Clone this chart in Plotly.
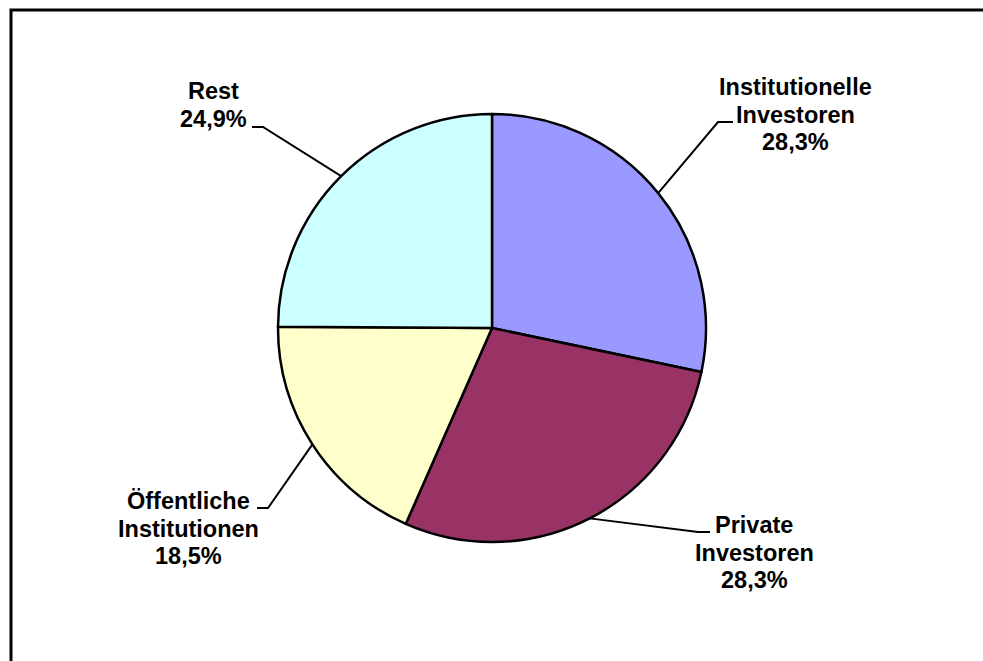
import math
import plotly.graph_objects as go

# ---- data ----
categories = ["Institutionelle Investoren", "Private Investoren", "Öffentliche Institutionen", "Rest"]
values = [28.3, 28.3, 18.5, 24.9]
label_lines = [
    ["Institutionelle", "Investoren", "28,3%"],
    ["Private", "Investoren", "28,3%"],
    ["Öffentliche", "Institutionen", "18,5%"],
    ["Rest", "24,9%"],
]
colors = ["#9999FF", "#993366", "#FFFFCC", "#CCFFFF"]

# ---- layout constants (pixels) ----
W, H = 983, 661
CX, CY, R = 492, 328, 214
FONT_SIZE = 23.5
LINE_SP = 27.5

# label centre x, first baseline y, elbow point, end of horizontal stub
label_pos = [
    dict(x=795, y=95, elbow=(718, 122), stub=(733, 122)),
    dict(x=754, y=533, elbow=(698, 532), stub=(710, 532)),
    dict(x=188, y=509, elbow=(268, 508), stub=(257, 508)),
    dict(x=213, y=99, elbow=(263, 127), stub=(252, 127)),
]


def px(x):
    return x / W


def py(y):
    return 1 - y / H


fig = go.Figure(
    go.Pie(
        labels=categories,
        values=values,
        sort=False,
        direction="clockwise",
        rotation=0,
        marker=dict(colors=colors, line=dict(color="black", width=2.5)),
        textinfo="none",
        hoverinfo="skip",
        showlegend=False,
        domain=dict(x=[px(CX - R), px(CX + R)], y=[py(CY + R), py(CY - R)]),
    )
)

shapes = []
annotations = []
total = sum(values)
cum = 0.0
for i, v in enumerate(values):
    mid = (cum + v / 2) / total * 2 * math.pi
    cum += v
    ex = CX + R * math.sin(mid)
    ey = CY - R * math.cos(mid)
    lp = label_pos[i]
    (bx, by), (sx, sy) = lp["elbow"], lp["stub"]
    path = f"M {px(ex)} {py(ey)} L {px(bx)} {py(by)} L {px(sx)} {py(sy)}"
    shapes.append(dict(type="path", xref="paper", yref="paper", path=path,
                       line=dict(color="black", width=2)))
    for j, t in enumerate(label_lines[i]):
        base = lp["y"] + j * LINE_SP
        annotations.append(dict(
            x=px(lp["x"]), y=py(base - 0.33 * FONT_SIZE), xref="paper", yref="paper",
            text=f"<b>{t}</b>", showarrow=False, xanchor="center", yanchor="middle",
            font=dict(family="Liberation Sans, Arial", size=FONT_SIZE, color="black"),
        ))

# outer frame: only left and top edges are visible (cut off at right and bottom)
frame = f"M {px(11)} -0.05 L {px(11)} {py(10)} L 1.05 {py(10)}"
shapes.append(dict(type="path", xref="paper", yref="paper", path=frame,
                   line=dict(color="black", width=3)))

fig.update_layout(
    width=W, height=H,
    margin=dict(l=0, r=0, t=0, b=0),
    paper_bgcolor="white", plot_bgcolor="white",
    shapes=shapes, annotations=annotations,
)

fig.write_html("out.html", config={"displayModeBar": False},
               post_script="document.body.style.margin='0';document.body.style.overflow='hidden';")
